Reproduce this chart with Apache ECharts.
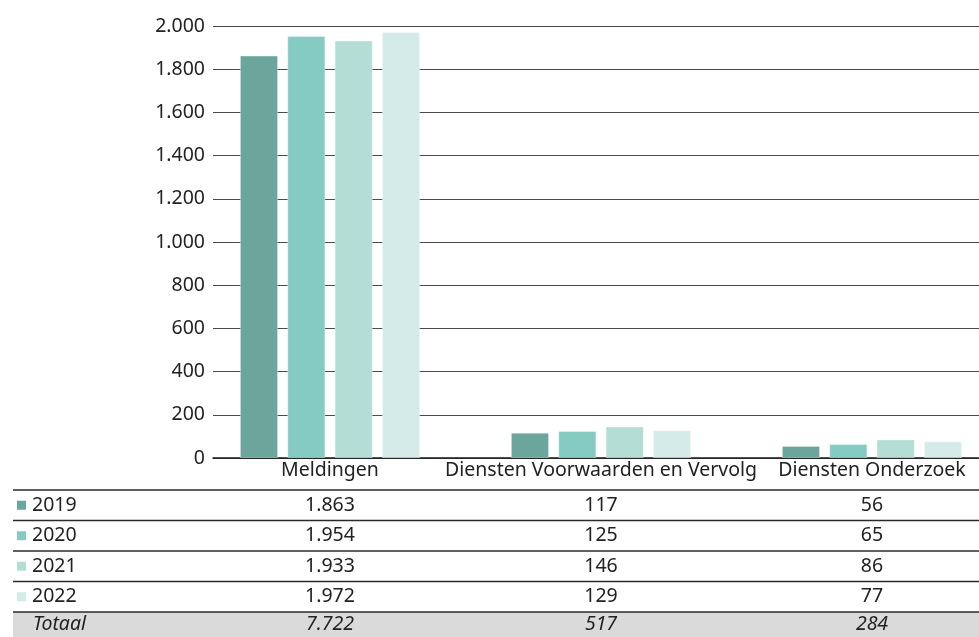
<!DOCTYPE html>
<html><head><meta charset="utf-8">
<script src="https://cdn.jsdelivr.net/npm/echarts@6/dist/echarts.min.js"></script>
<style>html,body{margin:0;padding:0;background:#fff}#c{width:979px;height:637px}</style>
</head><body><div id="c"></div>
<script>
var categories = ['Meldingen', 'Diensten Voorwaarden en Vervolg', 'Diensten Onderzoek'];
var years = ['2019', '2020', '2021', '2022'];
var v2019 = [1863, 117, 56];
var v2020 = [1954, 125, 65];
var v2021 = [1933, 146, 86];
var v2022 = [1972, 129, 77];
var yTicks = [0, 200, 400, 600, 800, 1000, 1200, 1400, 1600, 1800, 2000];
var colors = ['#6ba59c', '#86cbc1', '#b3ddd5', '#d4ebe7'];
var seriesValues = [v2019, v2020, v2021, v2022];
var totalLabel = 'Totaal';

var FONT = '"Noto Sans", sans-serif';
var FS = 19.5;
function fmt(n){ return String(n).replace(/\B(?=(\d{3})+(?!\d))/g, '.'); }

var chart = echarts.init(document.getElementById('c'), null, {renderer:'canvas'});
var series = years.map(function(y, i){
  return {
    name: y, type: 'bar', xAxisIndex: 0, yAxisIndex: 0,
    data: seriesValues[i],
    barGap: '24%', barCategoryGap: '33.5%',
    itemStyle: {color: colors[i], borderColor: 'rgba(255,255,255,0.35)', borderWidth: 1},
    z: 3
  };
});
chart.setOption({
  animation: false,
  textStyle: {fontFamily: FONT},
  grid: [
    {left: 194.5, top: 26, width: 813, height: 432, outerBoundsMode: 'none', containLabel: false},
    {left: 213, top: 26, right: 0, height: 432, outerBoundsMode: 'none', containLabel: false}
  ],
  xAxis: [
    {type: 'category', gridIndex: 0, data: categories,
     axisLine: {show: false}, axisTick: {show: false},
     axisLabel: {color: '#222', fontSize: FS, margin: 2, fontFamily: FONT, interval: 0}},
    {type: 'value', gridIndex: 1, min: 0, max: 1,
     axisLine: {show: true, lineStyle: {color: '#1a1a1a', width: 1.5}},
     axisTick: {show: false}, axisLabel: {show: false}, splitLine: {show: false}}
  ],
  yAxis: [
    {type: 'value', gridIndex: 0, min: 0, max: 2000, interval: 200, show: false, splitLine: {show: false}},
    {type: 'value', gridIndex: 1, min: yTicks[0], max: yTicks[yTicks.length-1], interval: yTicks[1]-yTicks[0],
     axisLine: {show: false}, axisTick: {show: false},
     axisLabel: {color: '#222', fontSize: FS, margin: 8, fontFamily: FONT, formatter: function(v){return fmt(v);}},
     splitLine: {show: true, lineStyle: {color: '#4a4a4a', width: 1.2}}}
  ],
  series: series
});

// table below chart
var rowTop = 490, rowH = 30.5, tableLeft = 13, tableRight = 979;
var colX = categories.map(function(c){ return chart.convertToPixel({xAxisIndex: 0}, c); });
var g = [];
var totY = rowTop + years.length * rowH;
g.push({type: 'rect', shape: {x: tableLeft, y: totY, width: tableRight - tableLeft, height: 637 - totY}, style: {fill: '#d9dad9'}, z: 1});
for (var r = 0; r <= years.length; r++) {
  var y = rowTop + r * rowH;
  g.push({type: 'line', shape: {x1: tableLeft, y1: y, x2: tableRight, y2: y}, style: {stroke: '#2a2a2a', lineWidth: 1.4}, z: 5});
}
years.forEach(function(yr, i){
  var cy = rowTop + i * rowH + rowH / 2;
  g.push({type: 'rect', shape: {x: 17, y: cy - 4.5, width: 9, height: 9}, style: {fill: colors[i]}, z: 5});
  g.push({type: 'text', style: {text: yr, x: 32, y: cy, verticalAlign: 'middle', fill: '#222', font: FS + 'px ' + FONT}, z: 5});
  seriesValues[i].forEach(function(v, j){
    g.push({type: 'text', style: {text: fmt(v), x: colX[j], y: cy, align: 'center', verticalAlign: 'middle', fill: '#222', font: FS + 'px ' + FONT}, z: 5});
  });
});
var tcy = totY + (637 - totY) / 2;
g.push({type: 'text', style: {text: totalLabel, x: 33, y: tcy, verticalAlign: 'middle', fill: '#222', font: 'italic ' + FS + 'px ' + FONT}, z: 5});
categories.forEach(function(c, j){
  var sum = 0; seriesValues.forEach(function(s){ sum += s[j]; });
  g.push({type: 'text', style: {text: fmt(sum), x: colX[j], y: tcy, align: 'center', verticalAlign: 'middle', fill: '#222', font: 'italic ' + FS + 'px ' + FONT}, z: 5});
});
chart.setOption({graphic: g});
</script>
</body></html>
